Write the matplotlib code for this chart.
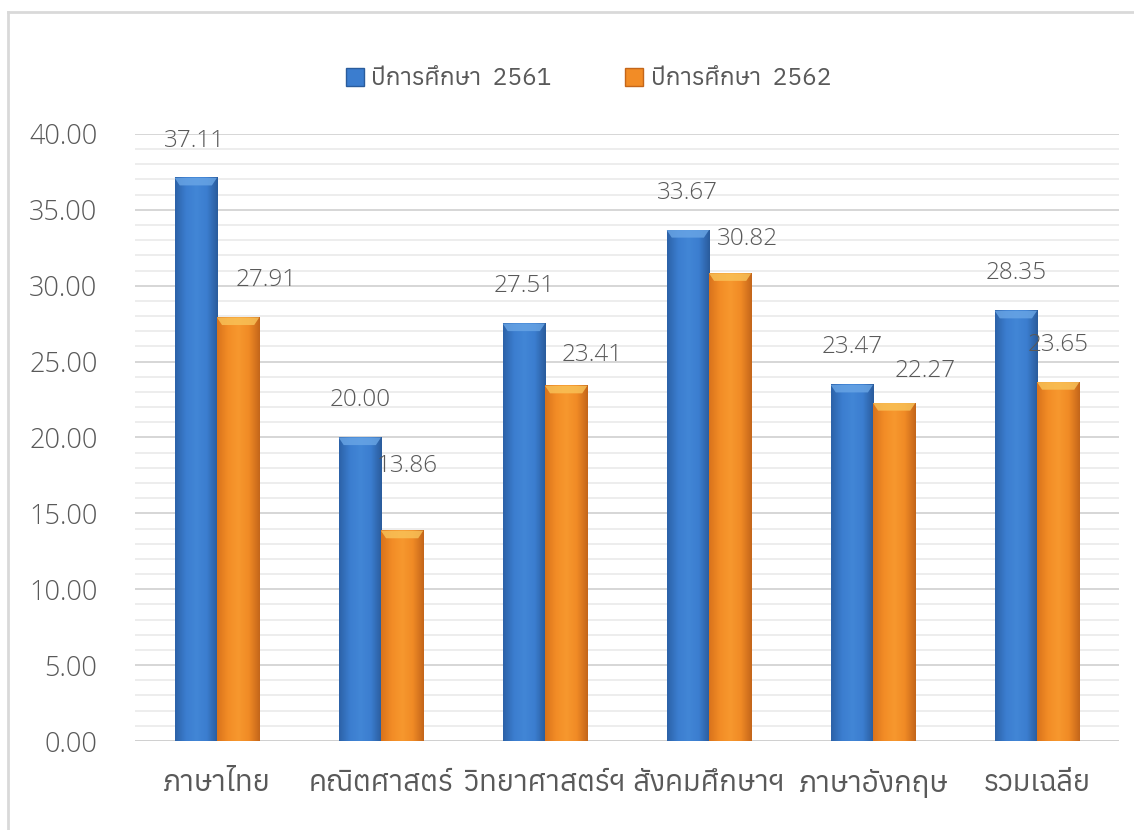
import numpy as np
import matplotlib
matplotlib.use("Agg")
import matplotlib.pyplot as plt
from matplotlib.patches import Polygon
from matplotlib.lines import Line2D
from matplotlib.colors import LinearSegmentedColormap

plt.rcParams['font.family'] = ['Anuphan', 'IBM Plex Sans Thai', 'Noto Sans Thai', 'Open Sans', 'DejaVu Sans']
plt.rcParams['font.weight'] = 'light'

# data
subjects = ['ภาษาไทย', 'คณิตศาสตร์', 'วิทยาศาสตร์ฯ', 'สังคมศึกษาฯ', 'ภาษาอังกฤษ', 'รวมเฉลี่ย']
year_2561 = [37.11, 20.00, 27.51, 33.67, 23.47, 28.35]
year_2562 = [27.91, 13.86, 23.41, 30.82, 22.27, 23.65]
series_names = ['ปีการศึกษา  2561', 'ปีการศึกษา  2562']

text_col = '#595959'
num_font = ['Open Sans', 'Noto Sans Thai']
blue_cmap = LinearSegmentedColormap.from_list('b', ['#2c62a8', '#3b7dcf', '#4286d6', '#3b7dcf', '#2a5c9c'])
orange_cmap = LinearSegmentedColormap.from_list('o', ['#d9731c', '#f28c26', '#f7982e', '#f08a25', '#c4661a'])
blue_top = '#6aa6e6'
orange_top = '#f9c45a'

# label nudges (pixels) where the label sits off its default spot
off_2561 = {0: (-1, 37)}
off_2562 = {0: (28, 37), 1: (5, 65), 2: (26, 31), 3: (17, 34), 4: (31, 32)}

fig = plt.figure(figsize=(11.34, 8.3), dpi=100)
ax = fig.add_axes([0.119, 0.1072, 0.8678, 0.7314])

x = np.arange(len(subjects))
w = 0.258
grad = np.linspace(0, 1, 64).reshape(1, -1)


def draw_bars(xs, vals, cmap, topc):
    for xc, v in zip(xs, vals):
        x0, x1 = xc - w / 2, xc + w / 2
        ax.imshow(grad, cmap=cmap, extent=(x0, x1, 0, v), aspect='auto', zorder=3, interpolation='bilinear')
        cap = 0.5
        inset = w * 0.12
        ax.add_patch(Polygon([(x0, v), (x1, v), (x1 - inset, v - cap), (x0 + inset, v - cap)],
                             closed=True, facecolor=topc, edgecolor='none', alpha=0.8, zorder=4))


draw_bars(x - w / 2, year_2561, blue_cmap, blue_top)
draw_bars(x + w / 2, year_2562, orange_cmap, orange_top)

# value labels
for i, v in enumerate(year_2561):
    ax.annotate(f'{v:.2f}', (x[i] - w / 2, v), xytext=off_2561.get(i, (0, 37.5)), textcoords='offset pixels',
                ha='center', va='center', fontsize=17.5, color=text_col, zorder=5, family=num_font)
for i, v in enumerate(year_2562):
    ax.annotate(f'{v:.2f}', (x[i] + w / 2, v), xytext=off_2562.get(i, (0, 37.5)), textcoords='offset pixels',
                ha='center', va='center', fontsize=17.5, color=text_col, zorder=5, family=num_font)

ax.set_xlim(-0.5, len(subjects) - 0.5)
ax.set_ylim(0, 40)
ax.set_yticks(np.arange(0, 41, 5))
ax.set_yticklabels([f'{t:.2f}' for t in np.arange(0, 41, 5)], family=num_font)
ax.set_yticks(np.arange(0, 41, 1), minor=True)
ax.set_xticks(x)
ax.set_xticklabels(subjects)
ax.tick_params(axis='y', which='both', length=0, labelsize=19.5, labelcolor=text_col, pad=27)
ax.tick_params(axis='x', length=0, labelsize=21, labelcolor=text_col, pad=20)
ax.grid(axis='y', which='minor', color='#ececec', linewidth=1.3, zorder=0)
ax.grid(axis='y', which='major', color='#d6d6d6', linewidth=1.4, zorder=0)
ax.set_axisbelow(True)
for s in ax.spines.values():
    s.set_visible(False)
ax.axhline(0, color='#d0d0d0', linewidth=1.4, zorder=2)

# legend
handles = [plt.Rectangle((0, 0), 1, 1, facecolor='#3b7dcf', edgecolor='#2a5c9c'),
           plt.Rectangle((0, 0), 1, 1, facecolor='#f28c26', edgecolor='#c4661a')]
fig.legend(handles, series_names, loc='center', bbox_to_anchor=(0.519, 0.905), ncol=2,
           frameon=False, fontsize=17.6, labelcolor=text_col, handlelength=0.75, handleheight=0.75,
           handletextpad=0.3, columnspacing=3.0)

# chart border
fig.add_artist(Line2D([8 / 1134, 8 / 1134], [0, 1 - 12 / 830], color='#d9d9d9', linewidth=2))
fig.add_artist(Line2D([8 / 1134, 1], [1 - 12 / 830, 1 - 12 / 830], color='#d9d9d9', linewidth=2))

fig.savefig('out.png', dpi=100)
